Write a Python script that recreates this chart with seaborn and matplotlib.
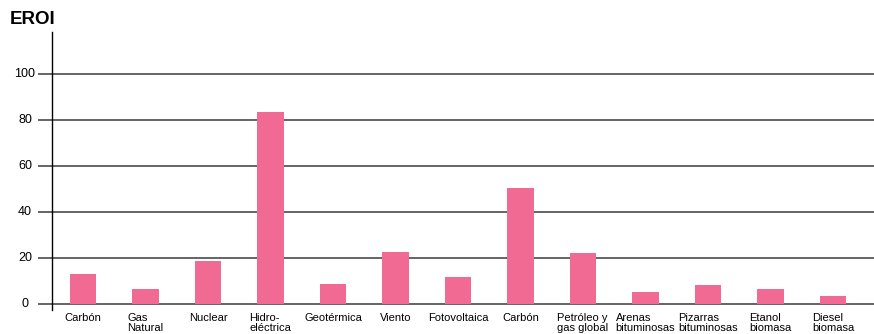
import matplotlib
matplotlib.use("Agg")
import matplotlib.pyplot as plt
import seaborn as sns
import pandas as pd

# data
fuentes = ["Carbón", "Gas\nNatural", "Nuclear", "Hidro-\neléctrica", "Geotérmica",
           "Viento", "Fotovoltaica", "Carbón", "Petróleo y\ngas global",
           "Arenas\nbituminosas", "Pizarras\nbituminosas", "Etanol\nbiomasa",
           "Diesel\nbiomasa"]
eroi = [13, 6.5, 18.7, 83.5, 8.7, 22.6, 11.7, 50.4, 22.2, 5.2, 8.3, 6.5, 3.4]
y_ticks = [0, 20, 40, 60, 80, 100]

BAR_COLOR = "#F06A94"

sns.set_style("white")
plt.rcParams["font.family"] = ["Liberation Sans", "DejaVu Sans"]
plt.rcParams["text.color"] = "black"
plt.rcParams["xtick.color"] = "black"
plt.rcParams["ytick.color"] = "black"

# categories must be unique for seaborn (Carbón appears twice)
df = pd.DataFrame({"key": [f"{i}" for i in range(len(fuentes))], "eroi": eroi})

fig = plt.figure(figsize=(8.74, 3.34), dpi=100)
ax = fig.add_axes([38 / 874, 24 / 334, 1 - 38 / 874, (310 - 32) / 334])

for v in y_ticks:
    ax.axhline(v, color="#3a3a3a", linewidth=1.1, zorder=1)

sns.barplot(data=df, x="key", y="eroi", color=BAR_COLOR, width=0.42,
            saturation=1, linewidth=0, ax=ax, zorder=2)

ax.set_xlim(-0.72, 12.656)
ax.set_ylim(-2.6, 118.3)

for side in ["top", "right", "bottom"]:
    ax.spines[side].set_visible(False)
ax.spines["left"].set_position(("data", -0.5))
ax.spines["left"].set_color("black")
ax.spines["left"].set_linewidth(1.0)

ax.set_xticks(range(len(fuentes)))
ax.set_xticklabels(fuentes, fontsize=8, ha="center", multialignment="left",
                   linespacing=1.05)
ax.tick_params(axis="x", length=0, pad=2)

# y labels sit left of the gridlines, outside the axes box
ax.set_yticks([])
for v in y_ticks:
    ax.text(-13 / 836, v, str(v), transform=ax.get_yaxis_transform(),
            ha="center", va="center", fontsize=9, clip_on=False)

ax.set_xlabel("")
ax.set_ylabel("")

fig.text(10 / 874, 1 - 11 / 334, "EROI", fontsize=13.5, fontweight="bold",
         ha="left", va="top")

fig.savefig("out.png", dpi=100)
